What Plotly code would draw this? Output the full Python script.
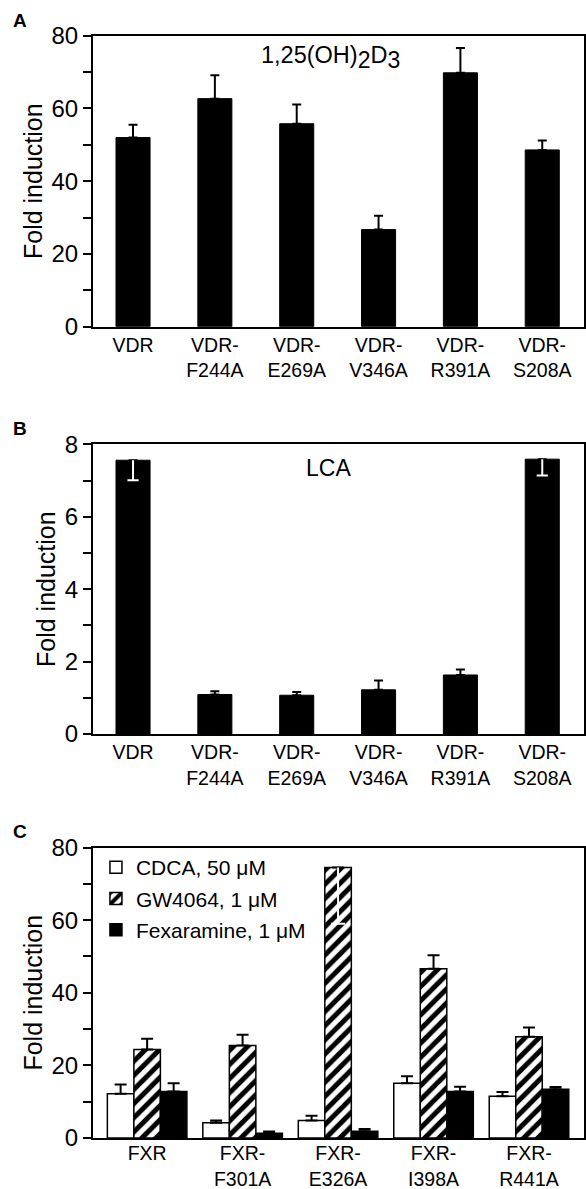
import plotly.graph_objects as go

# ---------------- data ----------------
vdr_labels = ["VDR", "VDR-<br>F244A", "VDR-<br>E269A", "VDR-<br>V346A", "VDR-<br>R391A", "VDR-<br>S208A"]
d3_values = [52.0, 62.7, 55.8, 26.7, 69.8, 48.6]
d3_err = [3.5, 6.4, 5.3, 3.8, 6.8, 2.6]

lca_values = [7.56, 1.09, 1.07, 1.22, 1.63, 7.59]
lca_err_up = [0, 0.09, 0.09, 0.26, 0.15, 0]
lca_err_down_white = [0.55, 0, 0, 0, 0, 0.45]

fxr_labels = ["FXR", "FXR-<br>F301A", "FXR-<br>E326A", "FXR-<br>I398A", "FXR-<br>R441A"]
cdca_values = [12.2, 4.2, 4.8, 15.1, 11.5]
cdca_err = [2.5, 0.65, 1.3, 1.9, 1.2]
gw_values = [24.4, 25.5, 74.5, 46.6, 27.9]
gw_err = [2.9, 2.9, 0, 3.7, 2.5]
gw_err_down_white = [0, 0, 15.5, 0, 0]
fex_values = [12.8, 1.3, 1.85, 12.8, 13.4]
fex_err = [2.3, 0.46, 0.65, 1.3, 0.65]

legend_names = ["CDCA, 50 \u03bcM", "GW4064, 1 \u03bcM", "Fexaramine, 1 \u03bcM"]

FONT = "Liberation Sans, Arial, Helvetica, sans-serif"
W, H = 586, 1189
L, R = 93, 2

fig = go.Figure()

def up_err(arr, w):
    return dict(type="data", symmetric=False, array=arr, arrayminus=[0] * len(arr),
                color="black", thickness=2, width=w)

# Panel A
fig.add_trace(go.Bar(x=vdr_labels, y=d3_values, width=0.416,
                     marker=dict(color="black", line=dict(color="black", width=1)),
                     error_y=up_err(d3_err, 4.5), xaxis="x", yaxis="y", showlegend=False))

# Panel B
fig.add_trace(go.Bar(x=vdr_labels, y=lca_values, width=0.416,
                     marker=dict(color="black", line=dict(color="black", width=1)),
                     error_y=up_err(lca_err_up, 4.5), xaxis="x2", yaxis="y2", showlegend=False))

# white (downward) error bars drawn inside the bars
def white_down(xs, vals, errs, xa, ya, cap):
    sx = [x for x, e in zip(xs, errs) if e > 0]
    sv = [v for v, e in zip(vals, errs) if e > 0]
    se = [e for e in errs if e > 0]
    fig.add_trace(go.Scatter(x=sx, y=sv, mode="markers", marker=dict(opacity=0, size=1),
                             error_y=dict(type="data", symmetric=False, array=[0] * len(se),
                                          arrayminus=se, color="white", thickness=2, width=0),
                             xaxis=xa, yaxis=ya, showlegend=False, hoverinfo="skip"))
    fig.add_trace(go.Scatter(x=sx, y=[v - e for v, e in zip(sv, se)], mode="markers",
                             marker=dict(symbol="line-ew", size=cap,
                                         line=dict(color="white", width=2)),
                             xaxis=xa, yaxis=ya, showlegend=False, hoverinfo="skip"))

white_down(vdr_labels, lca_values, lca_err_down_white, "x2", "y2", 8)

# Panel C
bw = 0.2777
fig.add_trace(go.Bar(x=fxr_labels, y=cdca_values, width=bw, offset=-1.5 * bw, name=legend_names[0],
                     marker=dict(color="white", line=dict(color="black", width=1.5)),
                     error_y=up_err(cdca_err, 6), xaxis="x3", yaxis="y3", legendgroup="a"))
fig.add_trace(go.Bar(x=fxr_labels, y=gw_values, width=bw, offset=-0.5 * bw, name=legend_names[1],
                     marker=dict(color="white", line=dict(color="black", width=1.5),
                                 pattern=dict(shape="/", fgcolor="black", bgcolor="white",
                                              fgopacity=1, fillmode="replace",
                                              size=10, solidity=0.5)),
                     error_y=up_err(gw_err, 6), xaxis="x3", yaxis="y3", legendgroup="b"))
fig.add_trace(go.Bar(x=fxr_labels, y=fex_values, width=bw, offset=0.5 * bw, name=legend_names[2],
                     marker=dict(color="black", line=dict(color="black", width=1.5)),
                     error_y=up_err(fex_err, 6), xaxis="x3", yaxis="y3", legendgroup="c"))
white_down(fxr_labels, gw_values, gw_err_down_white, "x3", "y3", 10)

def pdom(top_px, bot_px):
    return [1 - bot_px / H, 1 - top_px / H]

xcommon = dict(type="category", showline=True, linewidth=2, linecolor="black", mirror=True,
               ticks="", showgrid=False, zeroline=False,
               tickfont=dict(family=FONT, size=19.5, color="black"), domain=[0, 1])
ycommon = dict(showline=True, linewidth=2, linecolor="black", mirror=True,
               ticks="outside", ticklen=8, tickwidth=2, tickcolor="black",
               showgrid=False, zeroline=False,
               tickfont=dict(family=FONT, size=24, color="black"),
               title=dict(text="Fold induction", font=dict(family=FONT, size=25, color="black"),
                          standoff=2))

fig.update_layout(
    width=W, height=H,
    margin=dict(l=L, r=R, t=0, b=0, autoexpand=False),
    paper_bgcolor="white", plot_bgcolor="white",
    barmode="overlay",
    font=dict(family=FONT, color="black"),
    xaxis=dict(xcommon, anchor="y", range=[-0.489, 5.51]),
    xaxis2=dict(xcommon, anchor="y2", range=[-0.489, 5.51]),
    xaxis3=dict(xcommon, anchor="y3", range=[-0.567, 4.576], ticklabelstandoff=-3),
    yaxis=dict(ycommon, anchor="x", domain=pdom(35.7, 326.7), range=[0, 80], dtick=20,
               minor=dict(dtick=10, ticks="outside", ticklen=8, tickwidth=2, tickcolor="black")),
    yaxis2=dict(ycommon, anchor="x2", domain=pdom(444.3, 734), range=[0, 8], dtick=2,
                minor=dict(dtick=1, ticks="outside", ticklen=8, tickwidth=2, tickcolor="black")),
    yaxis3=dict(ycommon, anchor="x3", domain=pdom(847.5, 1138), range=[0, 80], dtick=20,
                minor=dict(dtick=10, ticks="outside", ticklen=8, tickwidth=2, tickcolor="black")),
    legend=dict(x=0.006, y=1 - 847 / H, xanchor="left", yanchor="top", xref="paper", yref="paper",
                bgcolor="rgba(0,0,0,0)", borderwidth=0, tracegroupgap=1,
                font=dict(family=FONT, size=21, color="black")),
    showlegend=True,
)

SUBSPAN = "<sub><span style='font-size:23px'>{}</span></sub>"
ann = [
    dict(text="1,25(OH)" + SUBSPAN.format("2") + "D" + SUBSPAN.format("3"),
         xref="x domain", yref="y domain", x=0.484, y=0.925, font=dict(size=23.5)),
    dict(text="LCA", xref="x2 domain", yref="y2 domain", x=0.48, y=0.918, font=dict(size=23)),
    dict(text="<b>A</b>", xref="paper", yref="paper", x=(20 - L) / (W - L - R), y=1 - 20.3 / H,
         font=dict(size=19)),
    dict(text="<b>B</b>", xref="paper", yref="paper", x=(20 - L) / (W - L - R), y=1 - 428.3 / H,
         font=dict(size=19)),
    dict(text="<b>C</b>", xref="paper", yref="paper", x=(20 - L) / (W - L - R), y=1 - 831.7 / H,
         font=dict(size=19)),
]
for a in ann:
    a.update(showarrow=False, xanchor="center", yanchor="middle")
    a["font"] = dict(family=FONT, color="black", size=a["font"]["size"])
fig.update_layout(annotations=ann)

fig.write_html("out.html", config={"displayModeBar": False},
               post_script="document.body.style.margin='0';document.body.style.padding='0';")
